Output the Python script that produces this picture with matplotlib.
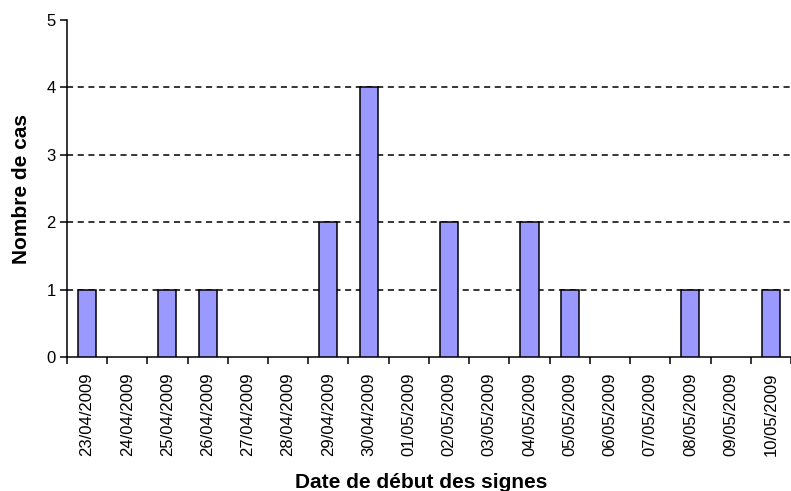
import matplotlib.pyplot as plt

# Données
dates = ["23/04/2009", "24/04/2009", "25/04/2009", "26/04/2009", "27/04/2009",
         "28/04/2009", "29/04/2009", "30/04/2009", "01/05/2009", "02/05/2009",
         "03/05/2009", "04/05/2009", "05/05/2009", "06/05/2009", "07/05/2009",
         "08/05/2009", "09/05/2009", "10/05/2009"]
cas = [1, 0, 1, 1, 0, 0, 2, 4, 0, 2, 0, 2, 1, 0, 0, 1, 0, 1]

plt.rcParams['font.family'] = ['Liberation Sans', 'DejaVu Sans']

fig = plt.figure(figsize=(7.91, 4.91), dpi=100)
ax = fig.add_axes([0.0845, 0.273, 0.9155, 0.686])

x = list(range(len(dates)))
# on ne dessine que les jours avec au moins un cas
xs = [i for i, c in zip(x, cas) if c > 0]
hs = [c for c in cas if c > 0]
ax.bar(xs, hs, width=0.45, color='#9999ff', edgecolor='black', linewidth=1.1, zorder=3)

ax.set_xlim(-0.5, len(dates) - 0.5)
ax.set_ylim(0, 5)

# Grille horizontale pointillée
for yv in range(1, 5):
    ax.axhline(yv, color='black', linestyle=(0, (4, 3)), linewidth=1.1, zorder=1)

ax.set_yticks(range(0, 6))
ax.tick_params(axis='y', direction='out', length=5, width=1.1, labelsize=12, pad=3)

# Graduations entre les catégories, étiquettes au centre
ax.set_xticks([i - 0.5 for i in range(len(dates) + 1)])
ax.set_xticklabels([])
ax.set_xticks(x, minor=True)
ax.set_xticklabels(dates, minor=True, rotation=90, fontsize=12, va='top', ha='center')
ax.tick_params(axis='x', which='major', direction='out', length=5, width=1.1)
ax.tick_params(axis='x', which='minor', length=0, pad=11)

for side in ['top', 'right']:
    ax.spines[side].set_visible(False)
for side in ['left', 'bottom']:
    ax.spines[side].set_linewidth(1.1)

ax.set_xlabel("Date de début des signes", fontsize=15, fontweight='bold')
ax.xaxis.set_label_coords(0.49, -0.345)
ax.set_ylabel("Nombre de cas", fontsize=15, fontweight='bold')
ax.yaxis.set_label_coords(-0.05, 0.5)

fig.savefig("out.png", dpi=100)
